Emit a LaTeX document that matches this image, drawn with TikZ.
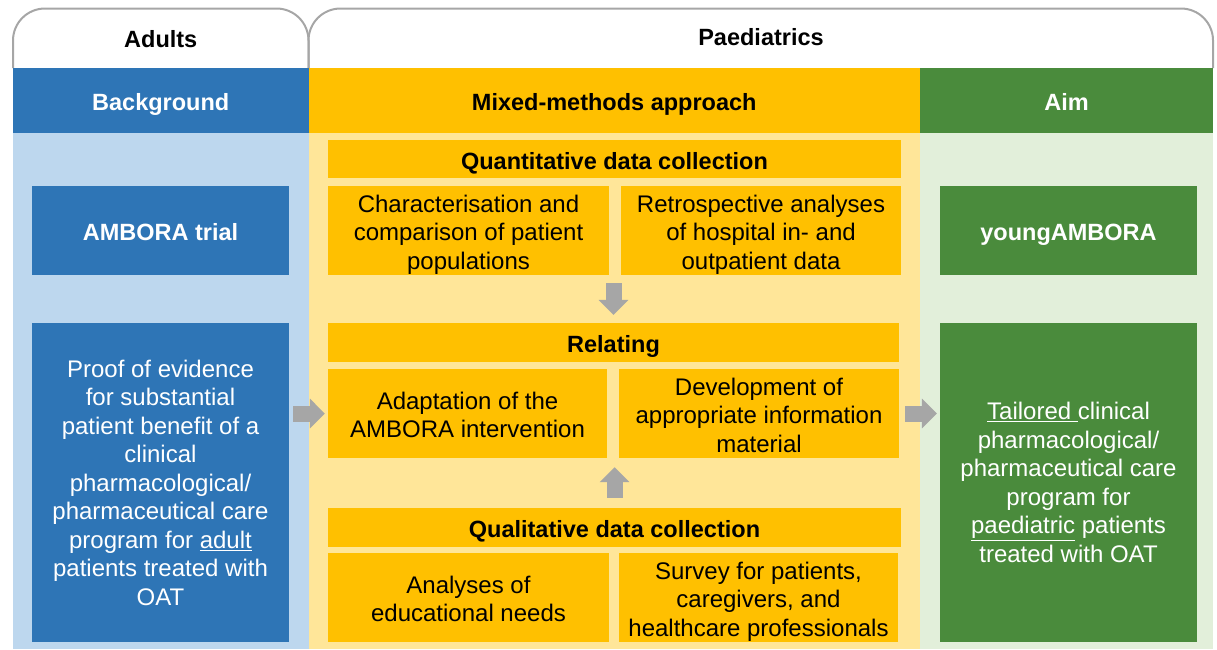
\documentclass[tikz,border=0pt]{standalone}
\usepackage{fontspec}
\setmainfont{Liberation Sans}
\usetikzlibrary{arrows.meta,calc}
\definecolor{bgblue}{HTML}{2E75B6}
\definecolor{bglblue}{HTML}{BDD7EE}
\definecolor{mmyellow}{HTML}{FFC000}
\definecolor{mmlyellow}{HTML}{FFE699}
\definecolor{aimgreen}{HTML}{4A8B3C}
\definecolor{aimlgreen}{HTML}{E2EFDA}
\definecolor{tabgray}{HTML}{A6A6A6}
\definecolor{arrowgray}{HTML}{A6A6A6}
% fixes the first-line height of a short multi-line label so the block sits centred
\newcommand{\tallline}{\rule{0pt}{20pt}}
\begin{document}
\begin{tikzpicture}[x=1pt,y=-1pt,
  % a fixed first-line height and no depth keep every label evenly placed
  txt/.style={font=\fontsize{24}{28.5}\selectfont, align=center, inner sep=0pt,
    text depth=0pt, execute at begin node={\rule{0pt}{20.3pt}}},
  bold/.style={font=\fontsize{23.5}{28}\selectfont\bfseries},
  ybox/.style={txt, fill=mmyellow, text=black},
  bbox/.style={txt, fill=bgblue, text=white},
  gbox/.style={txt, fill=aimgreen, text=white},
  tab/.style={draw=tabgray, line width=2pt, rounded corners=32pt},
  bigarrow/.style={draw=arrowgray, line width=16pt,
    -{Triangle[width=29pt,length=15pt]}, arrowgray}
]
\useasboundingbox (0,0) rectangle (1217,649);

% column backgrounds
\fill[bglblue]   (13,133) rectangle (308.5,649);
\fill[mmlyellow] (308.5,133) rectangle (920,649);
\fill[aimlgreen] (920,133) rectangle (1213,649);

% group tabs
\draw[tab] (13,68) -- (13,8.5) -- (308.5,8.5) -- (308.5,68);
\draw[tab] (308.5,68) -- (308.5,8.5) -- (1213,8.5) -- (1213,68);
\node[txt, bold] (adults) at (160.75,37) {Adults};
\node[txt, bold] (paed) at (761,35) {Paediatrics};

% column headers
\node[bbox, bold, minimum width=295.5pt, minimum height=65pt] (hbg) at (160.75,100.5) {Background};
\node[ybox, bold, minimum width=611.5pt, minimum height=65pt] (hmm) at (614.25,100.5) {Mixed-methods approach};
\node[gbox, bold, minimum width=293pt, minimum height=65pt] (haim) at (1066.5,100.5) {Aim};

% background column
\node[bbox, bold, minimum width=257pt, minimum height=89pt] (ambora) at (160.5,230.5) {AMBORA trial};
\node[bbox, minimum width=257pt, minimum height=319pt] (proof) at (160.5,482.5)
  {Proof of evidence\\for substantial\\patient benefit of a\\clinical\\pharmacological/\\pharmaceutical care\\program for \underline{adult}\\patients treated with\\OAT};

% mixed-methods column
\node[ybox, bold, minimum width=573pt, minimum height=38pt] (quant) at (614.5,159) {Quantitative data collection};
\node[ybox, minimum width=281pt, minimum height=89pt] (charac) at (468.5,230.5)
  {\tallline Characterisation and\\comparison of patient\\populations};
\node[ybox, minimum width=280pt, minimum height=89pt] (retro) at (761,230.5)
  {\tallline Retrospective analyses\\of hospital in- and\\outpatient data};

\node[ybox, bold, minimum width=571pt, minimum height=39pt] (relating) at (613.5,342.5) {Relating};
\node[ybox, minimum width=279pt, minimum height=89pt] (adapt) at (467.5,413.5)
  {\tallline Adaptation of the\\AMBORA intervention};
\node[ybox, minimum width=280pt, minimum height=89pt] (devel) at (759,413.5)
  {\tallline Development of\\appropriate information\\material};

\node[ybox, bold, minimum width=573pt, minimum height=39pt] (qual) at (614.5,527.5) {Qualitative data collection};
\node[ybox, minimum width=281pt, minimum height=89pt] (analyses) at (468.5,597.5)
  {\tallline Analyses of\\educational needs};
\node[ybox, minimum width=279pt, minimum height=89pt] (survey) at (758.5,597.5)
  {\tallline Survey for patients,\\caregivers, and\\healthcare professionals};

% aim column
\node[gbox, bold, minimum width=257pt, minimum height=89pt] (young) at (1068.5,230.5) {youngAMBORA};
\node[gbox, minimum width=257pt, minimum height=319pt] (tailored) at (1068.5,482.5)
  {\underline{Tailored\ }clinical\\pharmacological/\\pharmaceutical care\\program for\\\underline{paediatric} patients\\treated with OAT};

% flow arrows
\draw[bigarrow] ($(relating.north |- charac.south)+(0,8)$) -- ($(relating.north)+(0,-8)$);
\draw[bigarrow] ($(qual.north)+(0,-10)$) -- ($(qual.north |- devel.south)+(0,9)$);
\draw[bigarrow] ($(proof.east |- adapt.west)+(4,0)$) -- ($(adapt.west)+(-3,0)$);
\draw[bigarrow] ($(devel.east)+(6,0)$) -- ($(tailored.west |- devel.east)+(-3,0)$);
\end{tikzpicture}
\end{document}
